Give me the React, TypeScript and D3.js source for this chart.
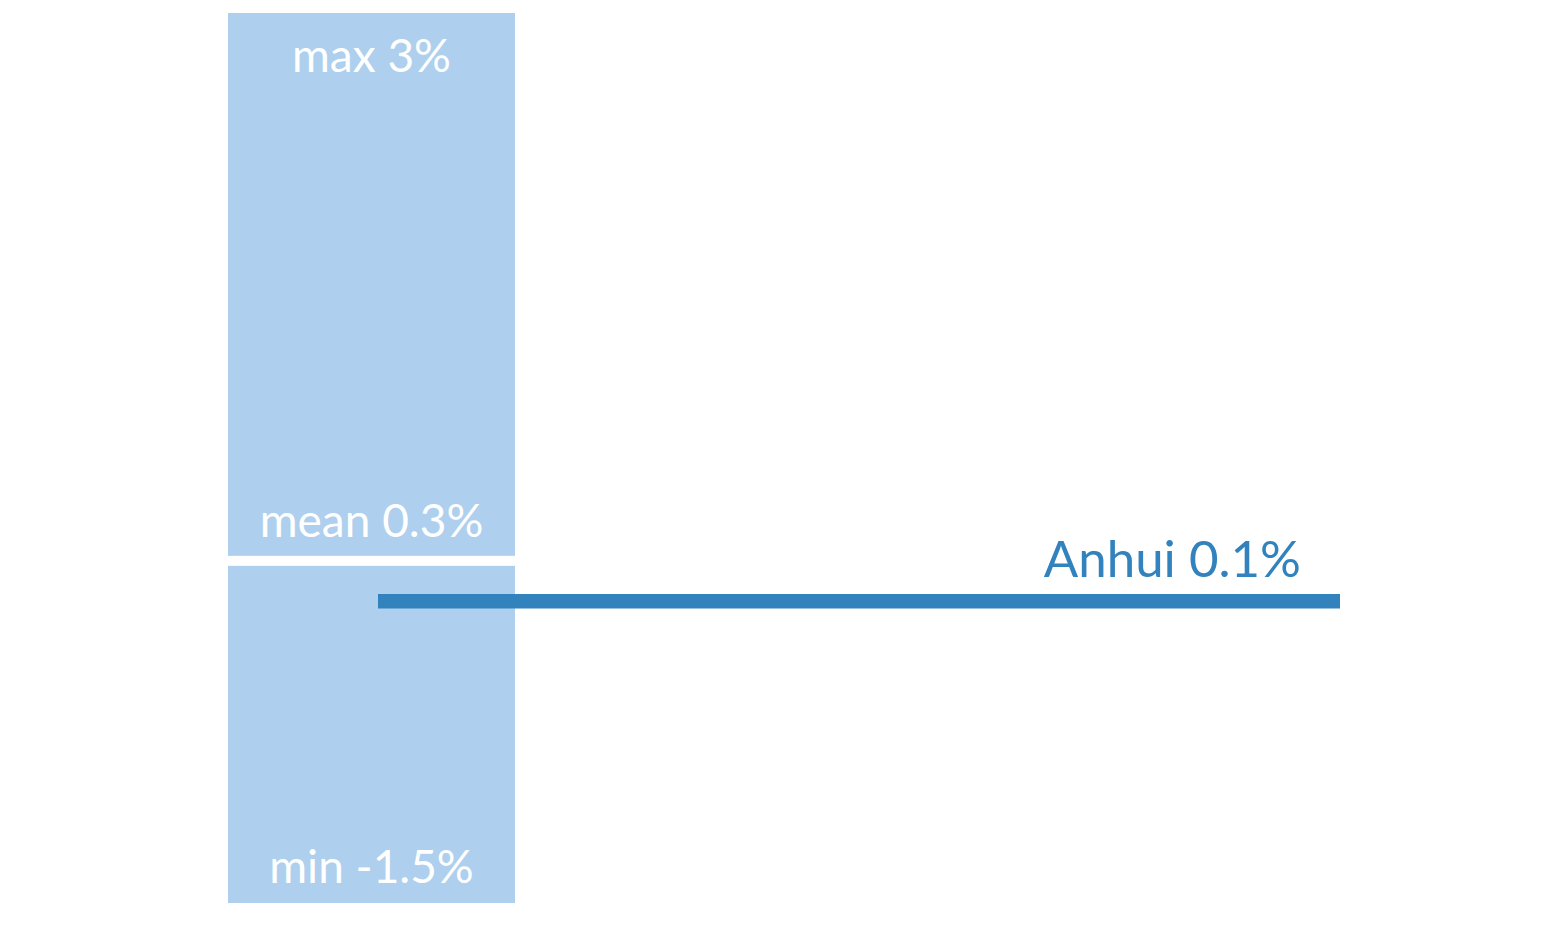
import React from "react";
import * as d3 from "d3";

// Summary statistics of the growth rate across provinces (percent)
const statLabels = ["max", "mean", "min"];
const statValues = [3.04, 0.27, -1.46];

// Highlighted province
const regionNames = ["Anhui"];
const regionValues = [0.066];

const WIDTH = 1562;
const HEIGHT = 937;
const BAR_X0 = 228;
const BAR_X1 = 515;
const GAP = 5;
const LINE_X0 = 378;
const LINE_X1 = 1340;

const LIGHT = "#aed0ee";
const DARK = "#3182bd";
const FONT = "Lato, 'Noto Sans', sans-serif";

const fmt = (v: number) => {
  const s = v.toFixed(1).replace(/\.0$/, "");
  return `${s}%`;
};

export default function App() {
  const [maxV, meanV, minV] = statValues;
  const y = d3.scaleLinear().domain([minV, maxV]).range([903, 13]);
  const yMean = y(meanV);
  const cx = (BAR_X0 + BAR_X1) / 2;
  const barW = BAR_X1 - BAR_X0;

  return (
    <div style={{ position: "absolute", left: 0, top: 0 }}>
      <svg width={WIDTH} height={HEIGHT} style={{ display: "block" }}>
        {/* upper segment: max down to mean */}
        <rect x={BAR_X0} y={y(maxV)} width={barW} height={yMean - GAP - y(maxV)} fill={LIGHT} />
        {/* lower segment: mean down to min */}
        <rect x={BAR_X0} y={yMean + GAP} width={barW} height={y(minV) - yMean - GAP} fill={LIGHT} />

        <text x={cx} y={y(maxV) + 59} textAnchor="middle" fill="#fff" fontFamily={FONT} fontSize={46}>
          {`${statLabels[0]} ${fmt(maxV)}`}
        </text>
        <text x={cx} y={yMean - GAP - 19} textAnchor="middle" fill="#fff" fontFamily={FONT} fontSize={46}>
          {`${statLabels[1]} ${fmt(meanV)}`}
        </text>
        <text x={cx} y={y(minV) - 20} textAnchor="middle" fill="#fff" fontFamily={FONT} fontSize={46}>
          {`${statLabels[2]} ${fmt(minV)}`}
        </text>

        {regionValues.map((v, i) => (
          <g key={regionNames[i]}>
            <line x1={LINE_X0} x2={LINE_X1} y1={y(v)} y2={y(v)} stroke={DARK} strokeWidth={14.5} />
            <text x={LINE_X1 - 39} y={y(v) - 24} textAnchor="end" fill={DARK} fontFamily={FONT} fontSize={51}>
              {`${regionNames[i]} ${fmt(v)}`}
            </text>
          </g>
        ))}
      </svg>
    </div>
  );
}
